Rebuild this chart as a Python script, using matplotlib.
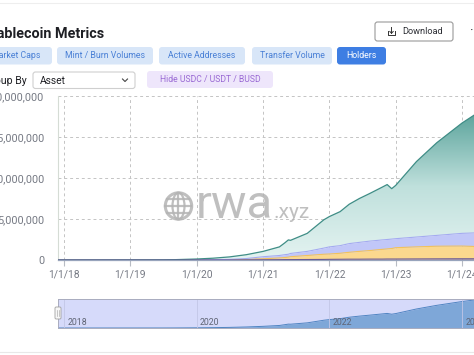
import numpy as np
import pandas as pd
import matplotlib
matplotlib.use("Agg")
import matplotlib.pyplot as plt
import matplotlib.dates as mdates
from matplotlib.colors import LinearSegmentedColormap
from matplotlib.patches import FancyBboxPatch, Circle, Ellipse

plt.rcParams["font.family"] = ["Roboto", "DejaVu Sans"]

# holders over time (stack tops, in holders)
dates = [
    "2017-11-20", "2018-07-01", "2019-01-01", "2019-07-01", "2019-09-01",
    "2020-01-01", "2020-04-01", "2020-07-01", "2020-10-01", "2021-01-01",
    "2021-04-01", "2021-05-01", "2021-05-20", "2021-06-01", "2021-09-01",
    "2021-12-01", "2022-01-01", "2022-03-01", "2022-04-20", "2022-06-15",
    "2022-08-10", "2022-10-20", "2022-11-15", "2022-12-10", "2023-01-01",
    "2023-04-25", "2023-08-15", "2024-01-01", "2024-03-10",
]
total_top = [
    0.0, 0.005, 0.01, 0.02, 0.04,
    0.12, 0.22, 0.38, 0.65, 1.05,
    1.6, 2.1, 2.45, 2.4, 3.25,
    4.9, 5.3, 5.9, 6.8, 7.5,
    8.1, 8.9, 9.2, 8.7, 9.1,
    12.0, 14.3, 16.7, 17.7,
]
periwinkle_top = [
    0.0, 0.0, 0.0, 0.0, 0.005,
    0.02, 0.04, 0.08, 0.18, 0.4,
    0.55, 0.65, 0.7, 0.8, 1.05,
    1.45, 1.6, 1.75, 2.0, 2.15,
    2.3, 2.45, 2.5, 2.55, 2.6,
    2.8, 3.0, 3.25, 3.3,
]
orange_top = [
    0.0, 0.0, 0.0, 0.0, 0.0,
    0.01, 0.02, 0.04, 0.08, 0.15,
    0.25, 0.3, 0.35, 0.4, 0.55,
    0.7, 0.73, 0.82, 0.94, 1.05,
    1.15, 1.3, 1.35, 1.4, 1.5,
    1.6, 1.68, 1.7, 1.65,
]
purple_top = [
    0.0, 0.0, 0.0, 0.0, 0.0,
    0.005, 0.008, 0.01, 0.02, 0.03,
    0.04, 0.05, 0.05, 0.05, 0.06,
    0.07, 0.08, 0.09, 0.1, 0.1,
    0.11, 0.11, 0.12, 0.12, 0.12,
    0.13, 0.14, 0.15, 0.15,
]
year_ticks = ["2018-01-01", "2019-01-01", "2020-01-01", "2021-01-01",
              "2022-01-01", "2023-01-01", "2024-01-01"]
year_labels = ["1/1/18", "1/1/19", "1/1/20", "1/1/21", "1/1/22", "1/1/23", "1/1/24"]
y_ticks = [0, 5e6, 10e6, 15e6, 20e6]
y_labels = ["0", "5,000,000", "10,000,000", "15,000,000", "20,000,000"]
mini_ticks = ["2018-01-01", "2020-01-01", "2022-01-01", "2024-01-01"]
mini_labels = ["2018", "2020", "2022", "2024"]
tabs = ["Market Caps", "Mint / Burn Volumes", "Active Addresses", "Transfer Volume", "Holders"]

W, H = 474, 355
x = mdates.date2num(pd.to_datetime(dates))
tot = np.array(total_top) * 1e6
peri = np.array(periwinkle_top) * 1e6
orng = np.array(orange_top) * 1e6
purp = np.array(purple_top) * 1e6
xlim = mdates.date2num(pd.to_datetime(["2017-11-29", "2024-03-07"]))

fig = plt.figure(figsize=(W / 100, H / 100), dpi=100)
fig.patch.set_facecolor("white")


def frac(px0, py0, px1, py1):
    return [px0 / W, 1 - py1 / H, (px1 - px0) / W, (py1 - py0) / H]


# ---- main chart
ax = fig.add_axes(frac(58, 96, 474, 260))
ax.set_facecolor("none")
ax.fill_between(x, 0, purp, color="#7a6aa8", lw=0, zorder=2)
ax.fill_between(x, purp, orng, color="#fbd88e", lw=0, zorder=2)
ax.plot(x, orng, color="#f3c25a", lw=0.8, zorder=3)
ax.fill_between(x, orng, peri, color="#c1c7f8", lw=0, zorder=2)
ax.plot(x, peri, color="#a4abf0", lw=0.8, zorder=3)
poly = ax.fill_between(x, peri, tot, color="none", lw=0)
teal = LinearSegmentedColormap.from_list("teal", ["#e4f3f1", "#bfe0dc", "#5aa39b"])
grad = np.linspace(0, 1, 256).reshape(-1, 1)
im = ax.imshow(grad, extent=[xlim[0], xlim[1], 0, 18e6], origin="lower",
               aspect="auto", cmap=teal, zorder=1)
im.set_clip_path(poly.get_paths()[0], transform=ax.transData)
ax.plot(x, tot, color="#3f8d86", lw=0.9, zorder=3)
ax.plot(x, purp, color="#6b5b95", lw=0.8, zorder=3)

ax.set_xlim(xlim)
ax.set_ylim(0, 20e6)
ax.set_xticks(mdates.date2num(pd.to_datetime(year_ticks)))
ax.set_xticklabels(year_labels)
ax.set_yticks(y_ticks)
ax.set_yticklabels(y_labels)
ax.tick_params(axis="x", length=4, color="#b8bcc4", colors="#767a84",
               labelsize=7.4, pad=3)
ax.tick_params(axis="y", length=0, colors="#767a84", labelsize=7.8, pad=10)
ax.grid(True, color="#c4c4c4", lw=0.7, linestyle=(0, (3, 3)), zorder=0)
ax.set_axisbelow(True)
for s in ["top", "right"]:
    ax.spines[s].set_visible(False)
ax.spines["left"].set_color("#d5dcd5")
ax.spines["left"].set_linewidth(0.8)
ax.spines["bottom"].set_color("#98a4bc")
ax.spines["bottom"].set_linewidth(0.9)

# ---- range slider
mini = fig.add_axes(frac(58, 299, 474, 328))
mini.set_xlim(xlim)
mini.set_ylim(0, 18.3e6)
mini.set_facecolor("#d6dafa")
mini.fill_between(x, 0, tot, color="#6f9ed3", lw=0, alpha=0.85)
mini.plot(x, tot, color="#4f84c2", lw=0.7)
for d in mdates.date2num(pd.to_datetime(mini_ticks)):
    mini.axvline(d, color="#c2c6e6", lw=0.6)
for d, lab in zip(mdates.date2num(pd.to_datetime(mini_ticks)), mini_labels):
    mini.text(d + 18, 0.8e6, lab, fontsize=6.3, color="#5f6474", va="bottom")
mini.set_xticks([])
mini.set_yticks([])
for s in mini.spines.values():
    s.set_color("#a9acbf")
    s.set_linewidth(0.7)

# ---- page furniture (pixel coordinates)
ui = fig.add_axes([0, 0, 1, 1], zorder=5)
ui.set_xlim(0, W)
ui.set_ylim(H, 0)
ui.axis("off")
ui.set_facecolor("none")


def box(x0, y0, x1, y1, fc, ec="none", r=3, lw=0.8):
    ui.add_patch(FancyBboxPatch((x0, y0), x1 - x0, y1 - y0,
                                boxstyle=f"round,pad=0,rounding_size={r}",
                                fc=fc, ec=ec, lw=lw))


ui.plot([0, W], [3, 3], color="#eeeeee", lw=0.8)
ui.plot([0, W], [352, 352], color="#e8e8e8", lw=0.8)
ui.text(104, 37.5, "Stablecoin Metrics", ha="right", va="baseline",
        fontsize=10.4, fontweight="semibold", color="#1e1f24")

box(375, 22, 453, 41, "white", "#9a9a9a", r=2.5)
ui.text(402, 31.5, "Download", ha="left", va="center", fontsize=6.6, color="#2b2d33")
ui.plot([388, 388, 395, 395], [31, 35, 35, 31], color="#333333", lw=0.7)
ui.plot([391.5, 391.5], [27, 33], color="#333333", lw=0.7)
ui.plot([389.8, 391.5, 393.2], [31.5, 33.2, 31.5], color="#333333", lw=0.7)
ui.text(472, 32, "·", ha="center", va="center", fontsize=10, color="#333333")

tab_boxes = [(-20, 52), (57, 153), (159, 245), (252, 332), (337, 386)]
for lab, (a, b) in zip(tabs, tab_boxes):
    active = lab == "Holders"
    box(a, 47, b, 64.5, "#3e7ee3" if active else "#d8e6f8", r=3)
    ui.text((a + b) / 2, 56, lab, ha="center", va="center", fontsize=6.3,
            color="white" if active else "#4a80d6")

ui.text(27, 81, "Group By", ha="right", va="center", fontsize=7.6, color="#1e1f24")
box(33, 72, 135, 88.5, "white", "#cfcfcf", r=2.5)
ui.text(40, 80.5, "Asset", ha="left", va="center", fontsize=7.4, color="#1e1f24")
ui.plot([122.5, 125, 127.5], [79, 81.5, 79], color="#444444", lw=0.8)
box(147, 71, 273, 88, "#eee6fb", r=3)
ui.text(210, 79.5, "Hide USDC / USDT / BUSD", ha="center", va="center",
        fontsize=6.2, color="#9a6ad4")

# slider handle
box(55, 307, 61, 319, "#f7f7f7", "#a0a0a0", r=1.2, lw=0.6)
ui.plot([57.5, 57.5], [310, 316], color="#b0b0b0", lw=0.5)
ui.plot([58.7, 58.7], [310, 316], color="#b0b0b0", lw=0.5)

# watermark
wm = "#b4b4b4"
ui.add_patch(Circle((178.5, 206), 13.2, fc="none", ec=wm, lw=2.2, alpha=0.85))
ui.add_patch(Ellipse((178.5, 206), 12, 26.4, fc="none", ec=wm, lw=1.6, alpha=0.85))
ui.plot([178.5, 178.5], [193, 219], color=wm, lw=1.6, alpha=0.85)
for yy, half in [(206, 13), (199, 11), (213, 11)]:
    ui.plot([178.5 - half, 178.5 + half], [yy, yy], color=wm, lw=1.6, alpha=0.85)
ui.text(196, 218.5, "rwa", ha="left", va="baseline", fontsize=34, color=wm, alpha=0.85)
ui.text(274, 218.5, ".xyz", ha="left", va="baseline", fontsize=15, color=wm, alpha=0.85)

fig.savefig("out.png", dpi=100)
